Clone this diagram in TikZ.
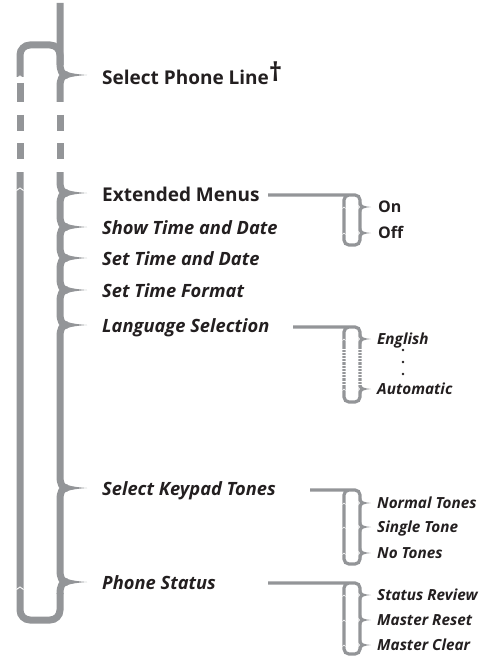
\documentclass[tikz,border=0pt]{standalone}
\usepackage{fontspec}
\setmainfont{Open Sans}
\definecolor{lg}{HTML}{939598}
\definecolor{tx}{HTML}{231F20}
\newcommand\spseg[2]{\draw[spine] (67,#1) .. controls (62,#1) and (60,#1+4) .. (60,#1+12) -- (60,#2-12) .. controls (60,#2-4) and (62,#2) .. (67,#2);}
\newcommand\sptip[1]{\fill[lg] (66,#1-3.5) .. controls (72,#1-1.2) and (80,#1-0.5) .. (87,#1) .. controls (80,#1+0.5) and (72,#1+1.2) .. (66,#1+3.5) -- cycle;}
\newcommand\subtip[1]{\fill[lg] (361.2,#1-5) .. controls (361.2,#1-1.5) and (364,#1-0.7) .. (371,#1) .. controls (364,#1+0.7) and (361.2,#1+1.5) .. (361.2,#1+5) -- cycle;
  \fill[white] (358.3,#1-2.5) -- (359.8,#1) -- (358.3,#1+2.5) -- cycle;
  \draw[white,line width=0.5pt] (342.4,#1+1.5) -- (344,#1) -- (345.6,#1+1.5);}
\newcommand\upchev[1]{\draw[white, line width=0.9pt] (16.5,#1+2.5) -- (20,#1) -- (23.5,#1+2.5);}
\begin{document}
\begin{tikzpicture}[x=1pt,y=-1pt,
  spine/.style={draw=lg, line width=7pt},
  sub/.style={draw=lg, line width=3.2pt},
  big/.style={anchor=base west, text=tx, inner sep=0pt, font=\fontsize{19}{22}\selectfont\bfseries},
  bigi/.style={anchor=base west, text=tx, inner sep=0pt, font=\fontsize{18.3}{22}\selectfont\bfseries\itshape},
  small/.style={anchor=base west, text=tx, inner sep=0pt, font=\fontsize{15.3}{17}\selectfont\bfseries\itshape},
  onoff/.style={anchor=base west, text=tx, inner sep=0pt, font=\fontsize{16}{18}\selectfont\bfseries},
]
\useasboundingbox (0,0) rectangle (487,658);
% spine
\draw[spine] (60,3) -- (60,63) .. controls (60,71) and (62,75) .. (67,75);
\draw[spine] (67,75) .. controls (62,75) and (60,79) .. (60,87) -- (60,102);
\draw[spine] (60,115) -- (60,131);
\draw[spine] (60,143) -- (60,159);
\draw[spine] (60,172) -- (60,181) .. controls (60,189) and (62,193) .. (67,193);
\foreach \a/\b in {193/227,227/258,258/290,290/325,325/488,488/582}{\spseg{\a}{\b}}
\draw[spine] (67,582) .. controls (62,582) and (60,586) .. (60,594);
\foreach \y in {75,193,227,258,290,325,488,582}{\sptip{\y}}
% return line
\draw[spine, rounded corners=10pt] (20,77) -- (20,45) -- (60,45) -- (60,65);
\draw[spine] (20,83) -- (20,102);
\draw[spine] (20,115) -- (20,131);
\draw[spine] (20,143) -- (20,159);
\draw[spine, rounded corners=10pt] (60,593) -- (60,620) -- (20,620) -- (20,172);
\upchev{76}\upchev{188}\upchev{587}
% texts
\node[big] (spl) at (102,85) {Select Phone Line\raisebox{3pt}{\fontsize{26}{26}\selectfont †}};
\node[big] (ext) at (102,201) {Extended Menus};
\node[bigi] (stdshow) at (102,234) {Show Time and Date};
\node[bigi] (stdset) at (102,265) {Set Time and Date};
\node[bigi] (stf) at (102,297) {Set Time Format};
\node[bigi] (lang) at (102,332) {Language Selection};
\node[bigi] (kpt) at (102,495) {Select Keypad Tones};
\node[bigi] (ps) at (102,589) {Phone Status};
% connector start points
\coordinate (extc) at (268,195);
\coordinate (langc) at (293,327);
\coordinate (kptc) at (310,490);
\coordinate (psc) at (268,583);
% sub boxes
\draw[sub, rounded corners=5pt] (extc) -- (360,195) -- (360,245) -- (344,245) -- (344,195) -- (352,195);
\draw[sub, rounded corners=5pt] (langc) -- (360,327) -- (360,402) -- (344,402) -- (344,327) -- (352,327);
\draw[sub, rounded corners=5pt] (kptc) -- (360,490) -- (360,564) -- (344,564) -- (344,490) -- (352,490);
\draw[sub, rounded corners=5pt] (psc) -- (360,583) -- (360,654) -- (344,654) -- (344,583) -- (352,583);
\foreach \y in {207,233,339,389,503,527,553,595,620,645}{\subtip{\y}}
\foreach \yy in {349,352.2,...,386}{\draw[white, line width=0.7pt] (341.5,\yy) -- (346.5,\yy) (357.5,\yy) -- (362.5,\yy);}
% sub texts
\node[onoff] (on) at (378,212) {On};
\node[onoff] (off) at (378,238) {Off};
\node[small] (eng) at (377,344) {English};
\node[small] (auto) at (377,394) {Automatic};
\foreach \yy in {350,362,374}{\fill[tx] (403,\yy) circle (1.4pt);}
\node[small] (nt) at (377,508) {Normal Tones};
\node[small] (st) at (377,532) {Single Tone};
\node[small] (not) at (377,558) {No Tones};
\node[small] (sr) at (377,600) {Status Review};
\node[small] (mr) at (377,625) {Master Reset};
\node[small] (mc) at (377,650) {Master Clear};
\end{tikzpicture}
\end{document}
